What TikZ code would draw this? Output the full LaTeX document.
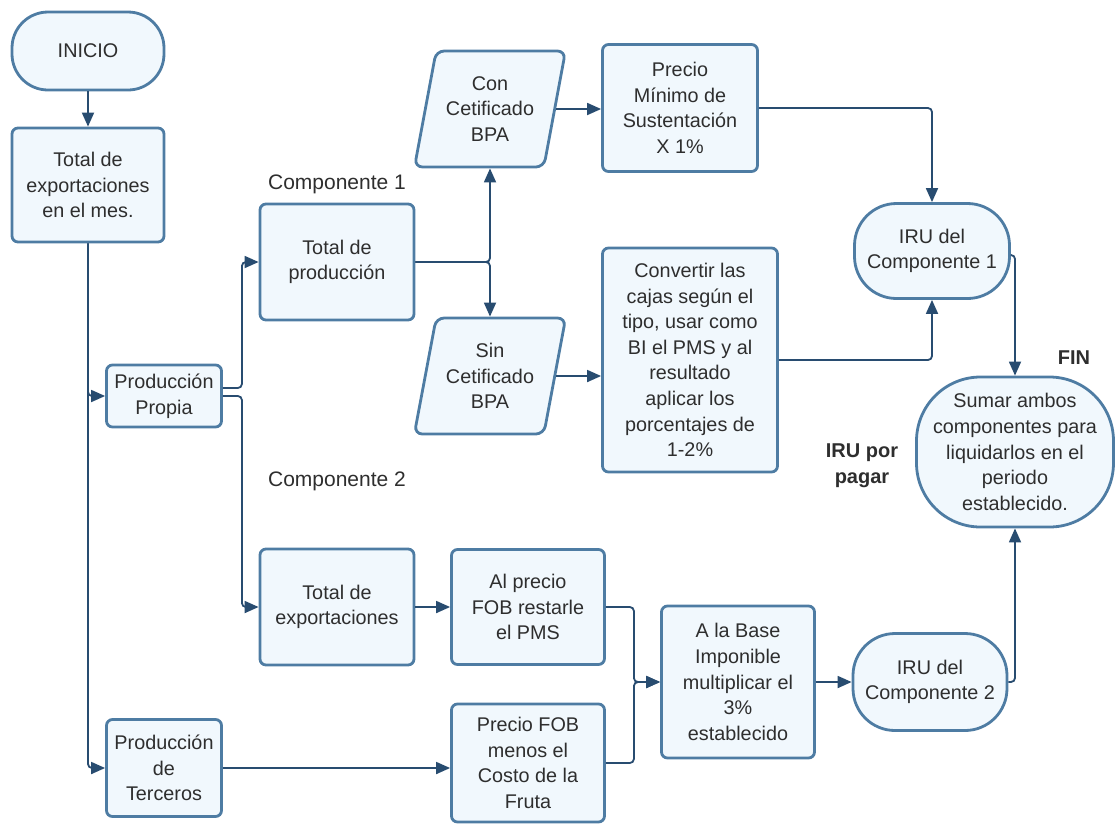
\documentclass[tikz,border=0pt]{standalone}
\usepackage{fontspec}
\setmainfont{Liberation Sans}
\usepackage{tikz}
\usetikzlibrary{shapes.geometric, arrows.meta, positioning}
\definecolor{borde}{RGB}{78,124,163}
\definecolor{relleno}{RGB}{241,248,253}
\definecolor{linea}{RGB}{40,76,112}
\tikzset{
  box/.style={
    rectangle, rounded corners=3pt, minimum width=76pt, minimum height=57pt,
    align=center, inner sep=2pt, draw=borde, line width=1.4pt, fill=relleno,
    font=\fontsize{9.9}{12.8}\selectfont, text=black!82
  },
  terminal/.style={
    box, rounded corners=18pt
  },
  datos/.style={
    trapezium, trapezium left angle=75, trapezium right angle=105,
    trapezium stretches=true, rounded corners=4pt,
    minimum width=76pt, minimum height=58pt,
    align=center, inner sep=1pt, draw=borde, line width=1.4pt, fill=relleno,
    font=\fontsize{9.9}{12.8}\selectfont, text=black!82
  },
  arrow/.style={
    -{Triangle[length=7pt,width=6pt]}, line width=0.9pt, color=linea, rounded corners=2pt
  }
}

\begin{document}
\begin{tikzpicture}[x=0.5pt, y=-0.5pt,
  etiqueta/.style={font=\fontsize{10.5}{13}\selectfont, text=black!82, align=center},
  negrita/.style={etiqueta, font=\fontsize{10}{13}\selectfont\bfseries}
]
\useasboundingbox (0,0) rectangle (1115,827);
% columna izquierda
\node[terminal, minimum height=39pt] (inicio) at (88,51) {INICIO};
\node[box] (totalmes) at (88,185) {Total de\\exportaciones\\en el mes.};
\node[box, minimum width=57.5pt, minimum height=31pt] (propia) at (164,396) {Producción\\Propia};
\node[box, minimum width=57.5pt, minimum height=48.5pt] (terceros) at (164,768) {Producción\\de\\Terceros};

% componente 1
\node[box, minimum width=77pt, minimum height=58pt] (prod) at (337,262) {Total de\\producción};
\node[etiqueta, above=1pt of prod] (comp1) {Componente 1};
\node[datos] (con) at (490,109) {Con\\Cetificado\\BPA};
\node[datos] (sin) at (490,376) {Sin\\Cetificado\\BPA};
\node[box, minimum width=77.5pt, minimum height=63.5pt] (pms) at (680,108) {Precio\\Mínimo de\\Sustentación\\X 1\%};
\node[box, minimum width=87.5pt, minimum height=112pt] (conv) at (690,360) {Convertir las\\cajas según el\\tipo, usar como\\BI el PMS y al\\resultado\\aplicar los\\porcentajes de\\1-2\%};
\node[terminal, minimum width=77.5pt, minimum height=47.5pt, rounded corners=21pt] (iru1) at (932,251) {IRU del\\Componente 1};

% componente 2
\node[box, minimum width=77pt, minimum height=58pt] (totexp) at (337,607) {Total de\\exportaciones};
\node[etiqueta] (comp2) at (337,481) {Componente 2};
\node[box, minimum width=76.5pt, minimum height=57.5pt] (alprecio) at (528,607) {Al precio\\FOB restarle\\el PMS};
\node[box, minimum width=76.5pt, minimum height=59pt] (menos) at (528,763) {Precio FOB\\menos el\\Costo de la\\Fruta};
\node[box, minimum width=76.5pt, minimum height=76pt] (base) at (738,682) {A la Base\\Imponible\\multiplicar el\\3\%\\establecido};
\node[terminal, minimum width=77pt, minimum height=48.5pt, rounded corners=21pt] (iru2) at (930,682) {IRU del\\Componente 2};

% fin
\node[terminal, minimum width=98.5pt, minimum height=75pt, rounded corners=32pt] (sumar) at (1015,452) {Sumar ambos\\componentes para\\liquidarlos en el\\periodo\\establecido.};
\node[negrita] (fin) at (1074,358) {FIN};
\node[negrita] (pagar) at (862,466) {IRU por\\pagar};

% conectores
\draw[arrow] (inicio) -- (totalmes);
\draw[arrow] (totalmes.south) |- (propia.west);
\draw[arrow] (totalmes.south) |- (terceros.west);
\draw[arrow] ([yshift=4pt]propia.east) -- ++(19,0) |- (prod.west);
\draw[arrow] (propia.east) -- ++(19,0) |- (totexp.west);
\draw[arrow] (prod.east) -| (con.south);
\draw[arrow] (prod.east) -| (sin.north);
\draw[arrow] (con.east) -- (con.east -| pms.west);
\draw[arrow] (sin.east) -- (sin.east -| conv.west);
\draw[arrow] (pms.east) -| (iru1.north);
\draw[arrow] (conv.east) -| (iru1.south);
\draw[arrow] ([yshift=-2pt]iru1.east) -| (sumar.north);
\draw[arrow] (totexp) -- (alprecio);
\draw[arrow] (terceros.east) -- (terceros.east -| menos.west);
\draw[arrow] (alprecio.east) -- ++(28,0) |- (base.west);
\draw[arrow] (menos.east) -- ++(28,0) |- (base.west);
\draw[arrow] (base) -- (iru2);
\draw[arrow] (iru2.east) -| (sumar.south);
\end{tikzpicture}
\end{document}
